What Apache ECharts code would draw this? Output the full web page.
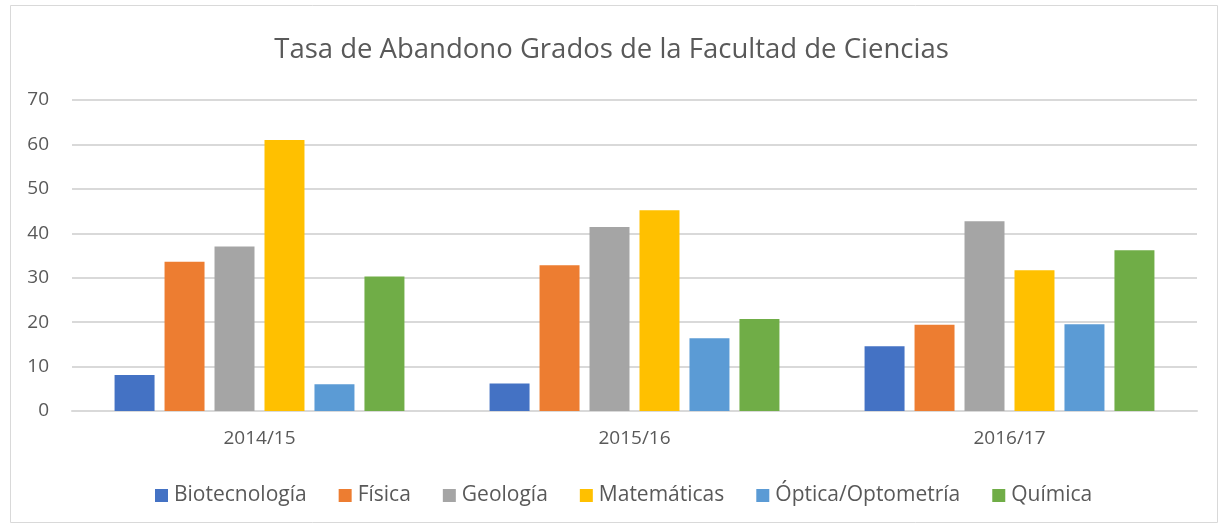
<!DOCTYPE html>
<html>
<head>
<meta charset="utf-8">
<script src="https://cdn.jsdelivr.net/npm/echarts@6/dist/echarts.min.js"></script>
<style>html,body{margin:0;padding:0;background:#fff}#c{width:1223px;height:526px}</style>
</head>
<body>
<div id="c"></div>
<script>
const categories = ['2014/15', '2015/16', '2016/17'];
const seriesNames = ['Biotecnología', 'Física', 'Geología', 'Matemáticas', 'Óptica/Optometría', 'Química'];
const biotecnologia = [8.1, 6.2, 14.6];
const fisica = [33.6, 32.8, 19.4];
const geologia = [37.0, 41.4, 42.7];
const matematicas = [61.0, 45.2, 31.7];
const optica = [6.0, 16.4, 19.5];
const quimica = [30.3, 20.7, 36.2];
const yTicks = [0, 10, 20, 30, 40, 50, 60, 70];
const colors = ['#4472C4', '#ED7D31', '#A5A5A5', '#FFC000', '#5B9BD5', '#70AD47'];

const values = [biotecnologia, fisica, geologia, matematicas, optica, quimica];
const font = '"Open Sans", sans-serif';
const chart = echarts.init(document.getElementById('c'));
chart.setOption({
  animation: false,
  graphic: [{
    type: 'rect', left: 8, top: 3, shape: { width: 1207, height: 517 },
    style: { fill: 'none', stroke: '#d9d9d9', lineWidth: 1 }, silent: true
  }],
  title: {
    text: 'Tasa de Abandono Grados de la Facultad de Ciencias',
    left: 'center', top: 31,
    textStyle: { fontFamily: font, fontSize: 27.5, fontWeight: 'normal', color: '#595959' }
  },
  legend: {
    bottom: 15, left: 150,
    itemWidth: 13, itemHeight: 13, itemGap: 32,
    icon: 'rect',
    textStyle: { fontFamily: font, fontSize: 21, color: '#595959', padding: [0, 0, 0, 1] },
    data: seriesNames
  },
  grid: { left: 72, right: 26, top: 100, bottom: 115 },
  xAxis: {
    type: 'category', data: categories,
    axisLine: { lineStyle: { color: '#d9d9d9', width: 2 } },
    axisTick: { show: false },
    axisLabel: { fontFamily: font, fontSize: 19, color: '#595959', margin: 18 }
  },
  yAxis: {
    type: 'value', min: yTicks[0], max: yTicks[yTicks.length - 1], interval: 10,
    axisLine: { show: false }, axisTick: { show: false },
    splitLine: { lineStyle: { color: '#d9d9d9', width: 2 } },
    axisLabel: { fontFamily: font, fontSize: 19, color: '#595959', margin: 23 }
  },
  series: seriesNames.map((n, i) => ({
    name: n, type: 'bar', data: values[i],
    itemStyle: { color: colors[i] },
    barGap: '25%', barCategoryGap: '22.7%'
  }))
});
</script>
</body>
</html>
